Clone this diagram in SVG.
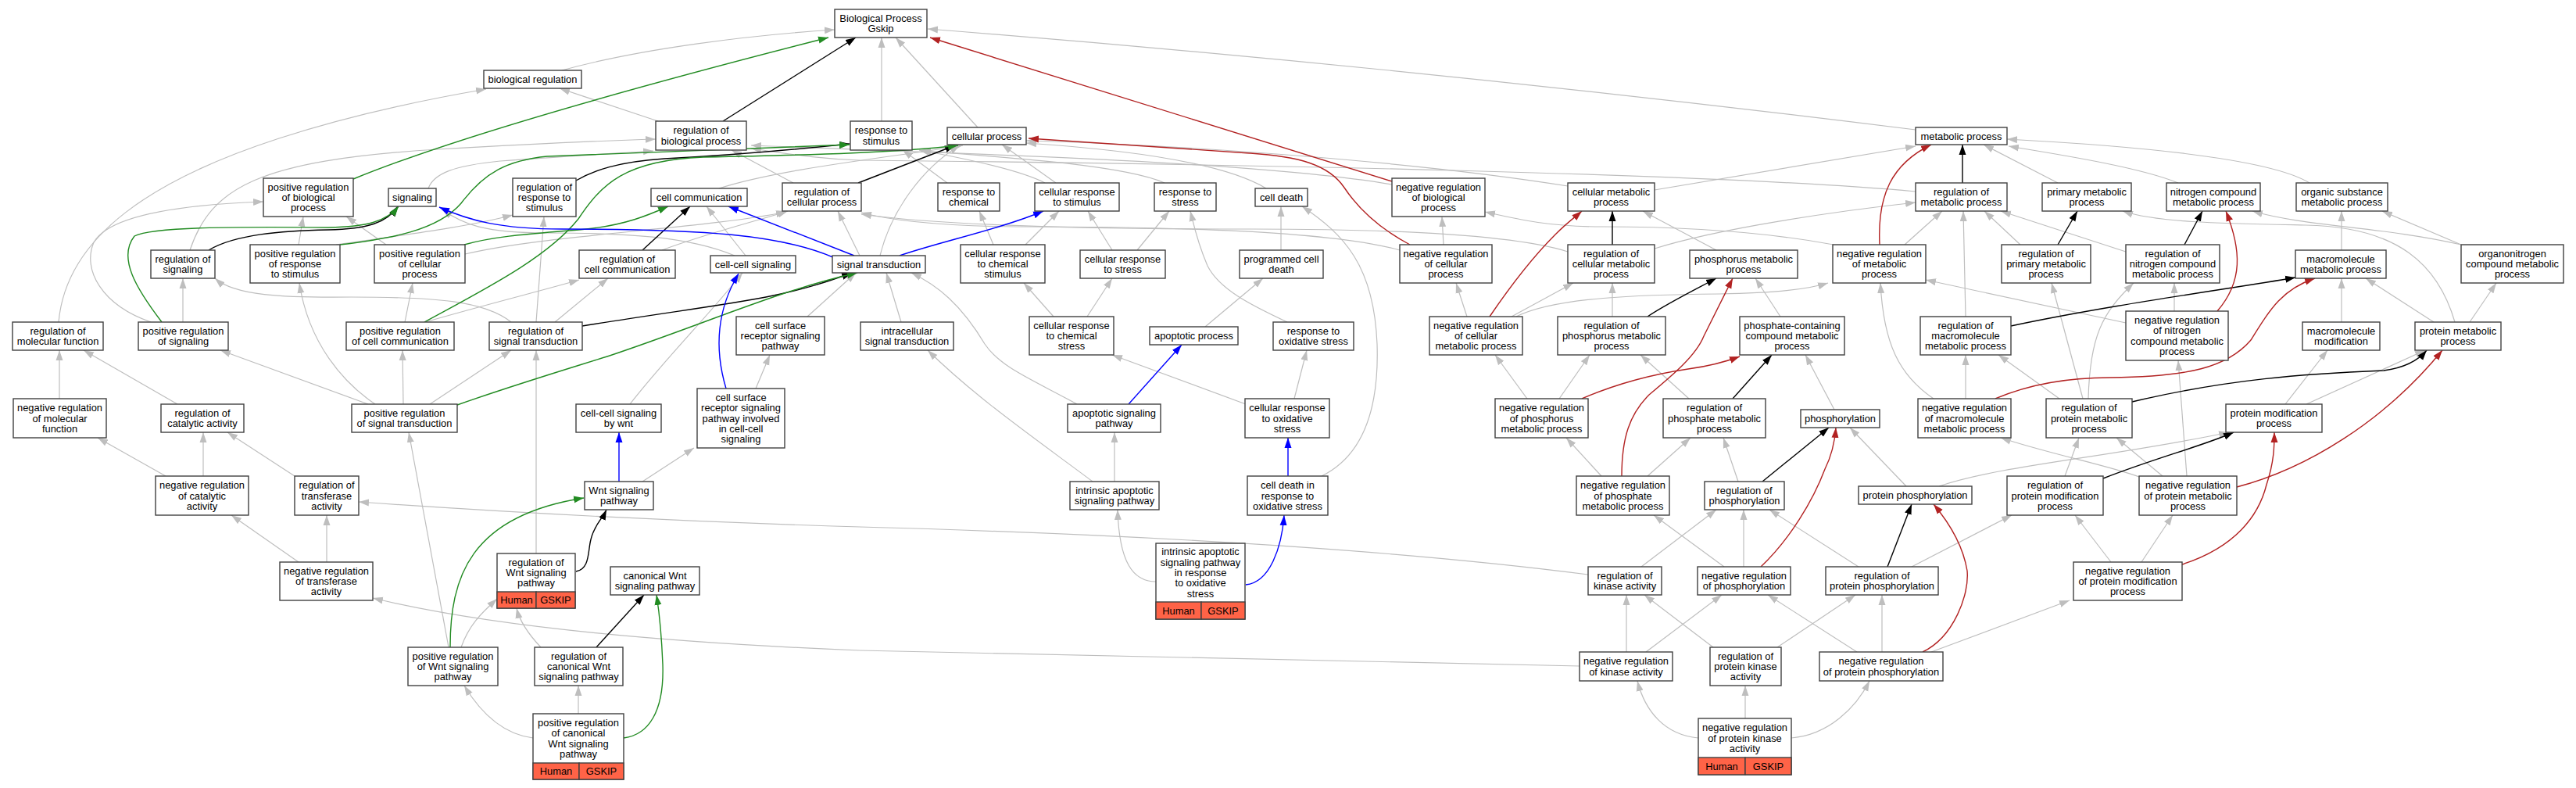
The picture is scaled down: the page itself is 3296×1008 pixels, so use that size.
<svg xmlns="http://www.w3.org/2000/svg" width="3296" height="1008" viewBox="0 0 3296 1008">
<style>
.node rect{fill:#fff;stroke:#404040;stroke-width:1.4}
.node rect.h{fill:#ff6347}
text{font-family:"Liberation Sans",Arial,sans-serif;font-size:12.9px;text-anchor:middle;fill:#000}
.e path{fill:none;stroke-width:1.2}
.e .g{stroke:#bebebe;marker-end:url(#ag)}
.e .k{stroke:#000;stroke-width:1.4;marker-end:url(#ak)}
.e .gr{stroke:#228b22;stroke-width:1.4;marker-end:url(#agr)}
.e .b{stroke:#0000ff;stroke-width:1.4;marker-end:url(#ab)}
.e .r{stroke:#b22222;stroke-width:1.4;marker-end:url(#ar)}
</style>
<defs>
<marker id="ag" markerUnits="userSpaceOnUse" markerWidth="13" markerHeight="10" viewBox="0 0 13 10" refX="13" refY="5" orient="auto"><path d="M0,0.5 L13,5 L0,9.5 z" fill="#bebebe"/></marker>
<marker id="ak" markerUnits="userSpaceOnUse" markerWidth="13" markerHeight="10" viewBox="0 0 13 10" refX="13" refY="5" orient="auto"><path d="M0,0.5 L13,5 L0,9.5 z" fill="#000"/></marker>
<marker id="agr" markerUnits="userSpaceOnUse" markerWidth="13" markerHeight="10" viewBox="0 0 13 10" refX="13" refY="5" orient="auto"><path d="M0,0.5 L13,5 L0,9.5 z" fill="#228b22"/></marker>
<marker id="ab" markerUnits="userSpaceOnUse" markerWidth="13" markerHeight="10" viewBox="0 0 13 10" refX="13" refY="5" orient="auto"><path d="M0,0.5 L13,5 L0,9.5 z" fill="#0000ff"/></marker>
<marker id="ar" markerUnits="userSpaceOnUse" markerWidth="13" markerHeight="10" viewBox="0 0 13 10" refX="13" refY="5" orient="auto"><path d="M0,0.5 L13,5 L0,9.5 z" fill="#b22222"/></marker>
</defs>
<rect width="3296" height="1008" fill="#fff"/>
<g id="edges" class="e">
<path class="g" d="M719,90 C820,62 960,45 1068,38"/>
<path class="g" d="M842,155 L716,113"/>
<path class="g" d="M75,412 C85,300 200,228 357,177 C440,150 540,128 622,114"/>
<path class="g" d="M1128,155 L1128,48"/>
<path class="g" d="M1251,163 L1146,48"/>
<path class="g" d="M2451,166 Q1800,85 1187,37"/>
<path class="g" d="M243,320 C270,240 330,205 560,191 C680,184 770,180 839,178"/>
<path class="g" d="M548,241 C555,222 580,212 640,206 C720,200 790,196 836,193"/>
<path class="g" d="M1015,234 L936,192"/>
<path class="g" d="M1781,236 C1600,205 1200,196 961,186"/>
<path class="g" d="M2451,245 C2200,222 1600,210 1100,205 C1040,203 1000,195 961,190"/>
<path class="g" d="M1212,234 L1155,192"/>
<path class="g" d="M1337,234 C1300,215 1220,200 1176,192"/>
<path class="g" d="M1490,234 C1440,212 1300,202 1178,193"/>
<path class="g" d="M1351,234 L1282,185"/>
<path class="g" d="M1126,327 C1140,270 1180,215 1228,186"/>
<path class="g" d="M2006,238 C1800,205 1500,185 1313,180"/>
<path class="g" d="M1620,241 C1560,205 1420,190 1313,183"/>
<path class="g" d="M920,241 C1000,215 1150,200 1232,186"/>
<path class="g" d="M1639,320 L1639,264"/>
<path class="g" d="M1271,313 L1253,270"/>
<path class="g" d="M1312,313 L1355,270"/>
<path class="g" d="M1423,320 L1392,270"/>
<path class="g" d="M1455,320 L1496,270"/>
<path class="g" d="M1348,405 L1310,362"/>
<path class="g" d="M1391,405 L1423,356"/>
<path class="g" d="M1647,412 C1600,390 1560,370 1545,340 C1532,310 1528,290 1523,270"/>
<path class="g" d="M1542,418 L1616,356"/>
<path class="g" d="M1594,517 L1423,454"/>
<path class="g" d="M1656,510 L1672,448"/>
<path class="g" d="M1691,609 C1740,585 1765,530 1762,440 C1758,340 1720,300 1666,264"/>
<path class="g" d="M1426,616 L1426,553"/>
<path class="g" d="M1479,744 C1450,744 1432,720 1430,652"/>
<path class="g" d="M1398,616 C1330,565 1250,510 1187,448"/>
<path class="g" d="M1378,517 C1320,485 1280,470 1260,440 C1230,390 1200,365 1166,349"/>
<path class="g" d="M1153,412 L1134,349"/>
<path class="g" d="M1033,405 L1095,349"/>
<path class="g" d="M1100,327 L1072,270"/>
<path class="g" d="M954,327 L904,264"/>
<path class="g" d="M847,320 C900,300 960,285 1008,270"/>
<path class="g" d="M595,325 C700,300 900,293 1006,271"/>
<path class="g" d="M806,517 C850,460 910,400 950,349"/>
<path class="g" d="M967,497 L985,454"/>
<path class="g" d="M822,616 L888,573"/>
<path class="g" d="M654,412 C620,385 560,380 450,380 C360,381 300,378 275,356"/>
<path class="g" d="M710,412 L778,356"/>
<path class="g" d="M686,412 L696,277"/>
<path class="g" d="M686,708 L686,448"/>
<path class="g" d="M471,517 L282,448"/>
<path class="g" d="M480,517 C440,490 395,440 383,362"/>
<path class="g" d="M516,517 L515,448"/>
<path class="g" d="M550,517 L654,448"/>
<path class="g" d="M574,828 L523,553"/>
<path class="g" d="M590,828 C600,800 615,785 636,766"/>
<path class="g" d="M692,828 C675,810 665,795 661,778"/>
<path class="g" d="M740,913 L740,877"/>
<path class="g" d="M682,944 C650,940 620,920 594,877"/>
<path class="g" d="M234,412 L234,356"/>
<path class="g" d="M193,412 C130,390 105,345 120,310 C140,275 230,262 337,258"/>
<path class="g" d="M518,412 L528,362"/>
<path class="g" d="M544,412 C620,390 700,370 741,358"/>
<path class="g" d="M382,313 L388,277"/>
<path class="g" d="M430,313 C520,300 600,290 656,275"/>
<path class="g" d="M494,313 L443,277"/>
<path class="g" d="M76,510 L76,448"/>
<path class="g" d="M227,517 L107,448"/>
<path class="g" d="M212,609 L125,560"/>
<path class="g" d="M260,609 L260,553"/>
<path class="g" d="M377,609 L291,553"/>
<path class="g" d="M382,719 L296,659"/>
<path class="g" d="M418,719 L418,659"/>
<path class="g" d="M2032,735 C1800,705 1500,685 1100,674 C800,665 600,652 459,642"/>
<path class="g" d="M2021,852 C1700,845 1400,838 1100,832 C800,820 600,795 477,765"/>
<path class="g" d="M1847,313 L1845,277"/>
<path class="g" d="M1791,320 C1700,295 1500,290 1300,290 C1200,289 1140,282 1102,272"/>
<path class="g" d="M2006,322 C1930,298 1760,293 1600,293 C1400,293 1200,288 1102,274"/>
<path class="g" d="M2346,313 C2250,295 2150,290 2050,290 C1980,290 1940,280 1900,271"/>
<path class="g" d="M1877,405 L1863,362"/>
<path class="g" d="M1934,405 L2013,362"/>
<path class="g" d="M1940,405 C1990,380 2100,377 2200,376 C2280,375 2320,368 2339,362"/>
<path class="g" d="M2063,405 L2063,362"/>
<path class="g" d="M2278,405 L2246,356"/>
<path class="g" d="M2196,320 L2102,270"/>
<path class="g" d="M2117,243 L2451,187"/>
<path class="g" d="M2633,234 L2538,185"/>
<path class="g" d="M2787,234 C2740,215 2650,200 2570,187"/>
<path class="g" d="M2955,234 C2900,200 2700,185 2568,178"/>
<path class="g" d="M2117,318 C2200,292 2350,270 2451,259"/>
<path class="g" d="M2437,313 L2485,270"/>
<path class="g" d="M2585,313 L2539,270"/>
<path class="g" d="M2720,322 L2560,270"/>
<path class="g" d="M2515,405 L2512,270"/>
<path class="g" d="M2996,320 L2996,270"/>
<path class="g" d="M3149,313 L3048,270"/>
<path class="g" d="M3149,313 C3050,290 2950,290 2882,270"/>
<path class="g" d="M3141,412 C3120,340 3070,290 2950,288 C2850,286 2760,285 2716,270"/>
<path class="g" d="M3114,412 L3027,356"/>
<path class="g" d="M3160,412 L3194,362"/>
<path class="g" d="M2996,412 L2996,356"/>
<path class="g" d="M2924,517 L2978,448"/>
<path class="g" d="M2951,517 L3103,448"/>
<path class="g" d="M2161,510 L2099,454"/>
<path class="g" d="M1995,510 L2034,454"/>
<path class="g" d="M1954,510 L1913,454"/>
<path class="g" d="M2347,524 L2310,454"/>
<path class="g" d="M2515,510 L2515,454"/>
<path class="g" d="M2474,510 C2430,480 2410,440 2406,362"/>
<path class="g" d="M2635,510 L2557,454"/>
<path class="g" d="M2665,510 L2625,362"/>
<path class="g" d="M2672,510 C2674,430 2690,400 2730,362"/>
<path class="g" d="M2782,398 L2782,362"/>
<path class="g" d="M2720,413 L2464,358"/>
<path class="g" d="M2049,609 L2004,560"/>
<path class="g" d="M2108,609 L2163,560"/>
<path class="g" d="M2224,616 L2205,560"/>
<path class="g" d="M2439,622 L2367,547"/>
<path class="g" d="M2481,622 C2560,595 2700,585 2852,553"/>
<path class="g" d="M2642,609 L2660,560"/>
<path class="g" d="M2767,609 L2708,560"/>
<path class="g" d="M2737,610 C2700,596 2620,580 2560,560"/>
<path class="g" d="M2798,609 L2787,461"/>
<path class="g" d="M2701,719 L2655,659"/>
<path class="g" d="M2740,719 L2780,659"/>
<path class="g" d="M2100,725 L2196,652"/>
<path class="g" d="M2231,725 L2231,652"/>
<path class="g" d="M2206,725 L2116,659"/>
<path class="g" d="M2378,725 L2264,652"/>
<path class="g" d="M2446,725 L2574,659"/>
<path class="g" d="M2376,834 L2262,761"/>
<path class="g" d="M2408,834 L2408,761"/>
<path class="g" d="M2471,834 L2648,768"/>
<path class="g" d="M2192,828 L2104,761"/>
<path class="g" d="M2274,828 L2374,761"/>
<path class="g" d="M2081,834 L2081,761"/>
<path class="g" d="M2106,834 L2203,761"/>
<path class="g" d="M2233,919 L2233,877"/>
<path class="g" d="M2173,944 C2130,940 2105,910 2095,871"/>
<path class="g" d="M2292,944 C2340,940 2375,905 2392,871"/>
<path class="g" d="M940,327 C880,302 800,298 700,298 C620,298 592,287 566,268"/>
<path class="k" d="M925,155 L1095,48"/>
<path class="k" d="M737,231 C760,218 790,207 850,203 C950,198 1030,190 1087,184"/>
<path class="k" d="M1098,234 L1222,186"/>
<path class="k" d="M267,320 C300,300 360,295 420,294 C470,293 495,285 509,264"/>
<path class="k" d="M822,320 L883,264"/>
<path class="k" d="M745,417 C850,400 930,390 980,380 C1030,370 1060,360 1090,349"/>
<path class="k" d="M2511,234 L2511,185"/>
<path class="k" d="M2063,313 L2063,270"/>
<path class="k" d="M2633,313 L2658,270"/>
<path class="k" d="M2795,313 L2818,270"/>
<path class="k" d="M2573,417 C2700,390 2850,370 2937,355"/>
<path class="k" d="M2108,405 C2130,390 2160,375 2196,356"/>
<path class="k" d="M2217,510 L2267,454"/>
<path class="k" d="M2255,616 L2340,547"/>
<path class="k" d="M2415,725 L2446,645"/>
<path class="k" d="M2691,612 C2760,585 2820,570 2858,553"/>
<path class="k" d="M2728,514 C2850,485 2950,478 3050,474 C3080,470 3095,460 3105,448"/>
<path class="k" d="M737,731 C755,728 752,705 756,690 C760,672 770,665 776,652"/>
<path class="k" d="M763,828 L824,761"/>
<path class="gr" d="M452,229 Q620,160 1060,48"/>
<path class="gr" d="M435,313 C500,305 560,295 590,260 C620,220 650,205 700,200 C850,195 1000,188 1087,185"/>
<path class="gr" d="M207,412 C175,370 150,330 172,302 C195,290 300,290 420,291 C470,290 495,283 510,264"/>
<path class="gr" d="M594,313 C640,300 700,298 750,293 C800,288 830,275 855,264"/>
<path class="gr" d="M543,412 C620,370 700,330 740,280 C770,235 800,205 900,201 C1050,198 1150,195 1226,186"/>
<path class="gr" d="M585,518 C650,495 700,480 780,455 C900,415 1000,370 1097,349"/>
<path class="gr" d="M576,828 C576,740 600,660 747,637"/>
<path class="gr" d="M798,944 C830,940 850,910 848,850 C846,800 843,780 840,761"/>
<path class="r" d="M1781,232 L1190,48"/>
<path class="r" d="M1804,313 C1770,295 1740,270 1720,240 C1700,210 1660,200 1600,196 C1500,190 1400,183 1316,177"/>
<path class="r" d="M2405,313 C2402,250 2420,210 2471,185"/>
<path class="r" d="M1906,405 C1940,355 1970,320 1990,300 C2005,285 2015,278 2024,270"/>
<path class="r" d="M2837,398 C2870,360 2868,320 2848,270"/>
<path class="r" d="M2553,510 C2600,490 2650,483 2700,483 C2800,482 2850,470 2880,435 C2905,395 2920,370 2962,356"/>
<path class="r" d="M2862,623 C2950,600 3050,540 3125,448"/>
<path class="r" d="M2792,722 C2860,700 2890,660 2900,620 C2910,590 2910,570 2910,553"/>
<path class="r" d="M2024,510 C2070,490 2120,478 2160,472 C2190,468 2210,462 2226,456"/>
<path class="r" d="M2075,609 C2075,560 2085,530 2110,505 C2140,480 2170,455 2180,430 C2195,400 2205,380 2217,356"/>
<path class="r" d="M2253,725 C2290,690 2320,640 2335,600 C2345,580 2348,560 2349,547"/>
<path class="r" d="M2460,834 C2500,815 2520,760 2517,730 C2512,700 2495,670 2474,645"/>
<path class="b" d="M1093,327 L932,264"/>
<path class="b" d="M1068,330 C1000,300 900,293 719,293 C640,293 600,282 562,265"/>
<path class="b" d="M1151,327 C1200,310 1280,293 1335,270"/>
<path class="b" d="M929,497 C915,450 915,400 945,350"/>
<path class="b" d="M792,616 L792,553"/>
<path class="b" d="M1444,517 L1512,441"/>
<path class="b" d="M1648,609 L1648,560"/>
<path class="b" d="M1594,748 C1625,745 1640,700 1643,659"/>
</g>
<g id="n0" class="node"><rect x="1068" y="12" width="118" height="36"/><text x="1127" y="27.9">Biological Process<tspan x="1127" dy="13.3">Gskip</tspan></text></g>
<g id="n1" class="node"><rect x="619" y="90" width="125" height="23"/><text x="681.5" y="106">biological regulation</text></g>
<g id="n2" class="node"><rect x="839" y="155" width="116" height="37"/><text x="897" y="171.4">regulation of<tspan x="897" dy="13.3">biological process</tspan></text></g>
<g id="n3" class="node"><rect x="1088" y="155" width="79" height="37"/><text x="1127.5" y="171.4">response to<tspan x="1127.5" dy="13.3">stimulus</tspan></text></g>
<g id="n4" class="node"><rect x="1212" y="163" width="101" height="22"/><text x="1262.5" y="178.5">cellular process</text></g>
<g id="n5" class="node"><rect x="2451" y="163" width="117" height="22"/><text x="2509.5" y="178.5">metabolic process</text></g>
<g id="n6" class="node"><rect x="337" y="228" width="115" height="49"/><text x="394.5" y="243.7">positive regulation<tspan x="394.5" dy="13.3">of biological</tspan><tspan x="394.5" dy="13.3">process</tspan></text></g>
<g id="n7" class="node"><rect x="497" y="241" width="61" height="23"/><text x="527.5" y="257">signaling</text></g>
<g id="n8" class="node"><rect x="656" y="228" width="81" height="49"/><text x="696.5" y="243.7">regulation of<tspan x="696.5" dy="13.3">response to</tspan><tspan x="696.5" dy="13.3">stimulus</tspan></text></g>
<g id="n9" class="node"><rect x="833" y="241" width="123" height="23"/><text x="894.5" y="257">cell communication</text></g>
<g id="n10" class="node"><rect x="1001" y="234" width="101" height="36"/><text x="1051.5" y="249.9">regulation of<tspan x="1051.5" dy="13.3">cellular process</tspan></text></g>
<g id="n11" class="node"><rect x="1200" y="234" width="79" height="36"/><text x="1239.5" y="249.9">response to<tspan x="1239.5" dy="13.3">chemical</tspan></text></g>
<g id="n12" class="node"><rect x="1324" y="234" width="108" height="36"/><text x="1378" y="249.9">cellular response<tspan x="1378" dy="13.3">to stimulus</tspan></text></g>
<g id="n13" class="node"><rect x="1477" y="234" width="79" height="36"/><text x="1516.5" y="249.9">response to<tspan x="1516.5" dy="13.3">stress</tspan></text></g>
<g id="n14" class="node"><rect x="1606" y="241" width="67" height="23"/><text x="1639.5" y="257">cell death</text></g>
<g id="n15" class="node"><rect x="1781" y="228" width="119" height="49"/><text x="1840.5" y="243.7">negative regulation<tspan x="1840.5" dy="13.3">of biological</tspan><tspan x="1840.5" dy="13.3">process</tspan></text></g>
<g id="n16" class="node"><rect x="2006" y="234" width="111" height="36"/><text x="2061.5" y="249.9">cellular metabolic<tspan x="2061.5" dy="13.3">process</tspan></text></g>
<g id="n17" class="node"><rect x="2451" y="234" width="117" height="36"/><text x="2509.5" y="249.9">regulation of<tspan x="2509.5" dy="13.3">metabolic process</tspan></text></g>
<g id="n18" class="node"><rect x="2613" y="234" width="114" height="36"/><text x="2670" y="249.9">primary metabolic<tspan x="2670" dy="13.3">process</tspan></text></g>
<g id="n19" class="node"><rect x="2772" y="234" width="120" height="36"/><text x="2832" y="249.9">nitrogen compound<tspan x="2832" dy="13.3">metabolic process</tspan></text></g>
<g id="n20" class="node"><rect x="2938" y="234" width="117" height="36"/><text x="2996.5" y="249.9">organic substance<tspan x="2996.5" dy="13.3">metabolic process</tspan></text></g>
<g id="n21" class="node"><rect x="193" y="320" width="82" height="36"/><text x="234" y="335.9">regulation of<tspan x="234" dy="13.3">signaling</tspan></text></g>
<g id="n22" class="node"><rect x="320" y="313" width="115" height="49"/><text x="377.5" y="328.7">positive regulation<tspan x="377.5" dy="13.3">of response</tspan><tspan x="377.5" dy="13.3">to stimulus</tspan></text></g>
<g id="n23" class="node"><rect x="479" y="313" width="116" height="49"/><text x="537" y="328.7">positive regulation<tspan x="537" dy="13.3">of cellular</tspan><tspan x="537" dy="13.3">process</tspan></text></g>
<g id="n24" class="node"><rect x="741" y="320" width="123" height="36"/><text x="802.5" y="335.9">regulation of<tspan x="802.5" dy="13.3">cell communication</tspan></text></g>
<g id="n25" class="node"><rect x="909" y="327" width="109" height="22"/><text x="963.5" y="342.5">cell-cell signaling</text></g>
<g id="n26" class="node"><rect x="1065" y="327" width="119" height="22"/><text x="1124.5" y="342.5">signal transduction</text></g>
<g id="n27" class="node"><rect x="1229" y="313" width="108" height="49"/><text x="1283" y="328.7">cellular response<tspan x="1283" dy="13.3">to chemical</tspan><tspan x="1283" dy="13.3">stimulus</tspan></text></g>
<g id="n28" class="node"><rect x="1382" y="320" width="109" height="36"/><text x="1436.5" y="335.9">cellular response<tspan x="1436.5" dy="13.3">to stress</tspan></text></g>
<g id="n29" class="node"><rect x="1586" y="320" width="107" height="36"/><text x="1639.5" y="335.9">programmed cell<tspan x="1639.5" dy="13.3">death</tspan></text></g>
<g id="n30" class="node"><rect x="1791" y="313" width="118" height="49"/><text x="1850" y="328.7">negative regulation<tspan x="1850" dy="13.3">of cellular</tspan><tspan x="1850" dy="13.3">process</tspan></text></g>
<g id="n31" class="node"><rect x="2006" y="313" width="111" height="49"/><text x="2061.5" y="328.7">regulation of<tspan x="2061.5" dy="13.3">cellular metabolic</tspan><tspan x="2061.5" dy="13.3">process</tspan></text></g>
<g id="n32" class="node"><rect x="2162" y="320" width="138" height="36"/><text x="2231" y="335.9">phosphorus metabolic<tspan x="2231" dy="13.3">process</tspan></text></g>
<g id="n33" class="node"><rect x="2345" y="313" width="119" height="49"/><text x="2404.5" y="328.7">negative regulation<tspan x="2404.5" dy="13.3">of metabolic</tspan><tspan x="2404.5" dy="13.3">process</tspan></text></g>
<g id="n34" class="node"><rect x="2561" y="313" width="114" height="49"/><text x="2618" y="328.7">regulation of<tspan x="2618" dy="13.3">primary metabolic</tspan><tspan x="2618" dy="13.3">process</tspan></text></g>
<g id="n35" class="node"><rect x="2720" y="313" width="120" height="49"/><text x="2780" y="328.7">regulation of<tspan x="2780" dy="13.3">nitrogen compound</tspan><tspan x="2780" dy="13.3">metabolic process</tspan></text></g>
<g id="n36" class="node"><rect x="2937" y="320" width="116" height="36"/><text x="2995" y="335.9">macromolecule<tspan x="2995" dy="13.3">metabolic process</tspan></text></g>
<g id="n37" class="node"><rect x="3149" y="313" width="131" height="49"/><text x="3214.5" y="328.7">organonitrogen<tspan x="3214.5" dy="13.3">compound metabolic</tspan><tspan x="3214.5" dy="13.3">process</tspan></text></g>
<g id="n38" class="node"><rect x="16" y="412" width="116" height="36"/><text x="74" y="427.9">regulation of<tspan x="74" dy="13.3">molecular function</tspan></text></g>
<g id="n39" class="node"><rect x="177" y="412" width="115" height="36"/><text x="234.5" y="427.9">positive regulation<tspan x="234.5" dy="13.3">of signaling</tspan></text></g>
<g id="n40" class="node"><rect x="443" y="412" width="138" height="36"/><text x="512" y="427.9">positive regulation<tspan x="512" dy="13.3">of cell communication</tspan></text></g>
<g id="n41" class="node"><rect x="626" y="412" width="119" height="36"/><text x="685.5" y="427.9">regulation of<tspan x="685.5" dy="13.3">signal transduction</tspan></text></g>
<g id="n42" class="node"><rect x="942" y="405" width="113" height="49"/><text x="998.5" y="420.7">cell surface<tspan x="998.5" dy="13.3">receptor signaling</tspan><tspan x="998.5" dy="13.3">pathway</tspan></text></g>
<g id="n43" class="node"><rect x="1101" y="412" width="119" height="36"/><text x="1160.5" y="427.9">intracellular<tspan x="1160.5" dy="13.3">signal transduction</tspan></text></g>
<g id="n44" class="node"><rect x="1317" y="405" width="108" height="49"/><text x="1371" y="420.7">cellular response<tspan x="1371" dy="13.3">to chemical</tspan><tspan x="1371" dy="13.3">stress</tspan></text></g>
<g id="n45" class="node"><rect x="1471" y="418" width="113" height="23"/><text x="1527.5" y="434">apoptotic process</text></g>
<g id="n46" class="node"><rect x="1629" y="412" width="103" height="36"/><text x="1680.5" y="427.9">response to<tspan x="1680.5" dy="13.3">oxidative stress</tspan></text></g>
<g id="n47" class="node"><rect x="1829" y="405" width="119" height="49"/><text x="1888.5" y="420.7">negative regulation<tspan x="1888.5" dy="13.3">of cellular</tspan><tspan x="1888.5" dy="13.3">metabolic process</tspan></text></g>
<g id="n48" class="node"><rect x="1993" y="405" width="138" height="49"/><text x="2062" y="420.7">regulation of<tspan x="2062" dy="13.3">phosphorus metabolic</tspan><tspan x="2062" dy="13.3">process</tspan></text></g>
<g id="n49" class="node"><rect x="2226" y="405" width="134" height="49"/><text x="2293" y="420.7">phosphate-containing<tspan x="2293" dy="13.3">compound metabolic</tspan><tspan x="2293" dy="13.3">process</tspan></text></g>
<g id="n50" class="node"><rect x="2457" y="405" width="116" height="49"/><text x="2515" y="420.7">regulation of<tspan x="2515" dy="13.3">macromolecule</tspan><tspan x="2515" dy="13.3">metabolic process</tspan></text></g>
<g id="n51" class="node"><rect x="2720" y="398" width="131" height="63"/><text x="2785.5" y="414.1">negative regulation<tspan x="2785.5" dy="13.3">of nitrogen</tspan><tspan x="2785.5" dy="13.3">compound metabolic</tspan><tspan x="2785.5" dy="13.3">process</tspan></text></g>
<g id="n52" class="node"><rect x="2946" y="412" width="99" height="36"/><text x="2995.5" y="427.9">macromolecule<tspan x="2995.5" dy="13.3">modification</tspan></text></g>
<g id="n53" class="node"><rect x="3090" y="412" width="110" height="36"/><text x="3145" y="427.9">protein metabolic<tspan x="3145" dy="13.3">process</tspan></text></g>
<g id="n54" class="node"><rect x="17" y="510" width="119" height="50"/><text x="76.5" y="526.2">negative regulation<tspan x="76.5" dy="13.3">of molecular</tspan><tspan x="76.5" dy="13.3">function</tspan></text></g>
<g id="n55" class="node"><rect x="206" y="517" width="106" height="36"/><text x="259" y="532.9">regulation of<tspan x="259" dy="13.3">catalytic activity</tspan></text></g>
<g id="n56" class="node"><rect x="450" y="517" width="135" height="36"/><text x="517.5" y="532.9">positive regulation<tspan x="517.5" dy="13.3">of signal transduction</tspan></text></g>
<g id="n57" class="node"><rect x="737" y="517" width="109" height="36"/><text x="791.5" y="532.9">cell-cell signaling<tspan x="791.5" dy="13.3">by wnt</tspan></text></g>
<g id="n58" class="node"><rect x="892" y="497" width="112" height="76"/><text x="948" y="512.9">cell surface<tspan x="948" dy="13.3">receptor signaling</tspan><tspan x="948" dy="13.3">pathway involved</tspan><tspan x="948" dy="13.3">in cell-cell</tspan><tspan x="948" dy="13.3">signaling</tspan></text></g>
<g id="n59" class="node"><rect x="1366" y="517" width="119" height="36"/><text x="1425.5" y="532.9">apoptotic signaling<tspan x="1425.5" dy="13.3">pathway</tspan></text></g>
<g id="n60" class="node"><rect x="1593" y="510" width="108" height="50"/><text x="1647" y="526.2">cellular response<tspan x="1647" dy="13.3">to oxidative</tspan><tspan x="1647" dy="13.3">stress</tspan></text></g>
<g id="n61" class="node"><rect x="1913" y="510" width="119" height="50"/><text x="1972.5" y="526.2">negative regulation<tspan x="1972.5" dy="13.3">of phosphorus</tspan><tspan x="1972.5" dy="13.3">metabolic process</tspan></text></g>
<g id="n62" class="node"><rect x="2128" y="510" width="131" height="50"/><text x="2193.5" y="526.2">regulation of<tspan x="2193.5" dy="13.3">phosphate metabolic</tspan><tspan x="2193.5" dy="13.3">process</tspan></text></g>
<g id="n63" class="node"><rect x="2304" y="524" width="101" height="23"/><text x="2354.5" y="540">phosphorylation</text></g>
<g id="n64" class="node"><rect x="2454" y="510" width="119" height="50"/><text x="2513.5" y="526.2">negative regulation<tspan x="2513.5" dy="13.3">of macromolecule</tspan><tspan x="2513.5" dy="13.3">metabolic process</tspan></text></g>
<g id="n65" class="node"><rect x="2618" y="510" width="110" height="50"/><text x="2673" y="526.2">regulation of<tspan x="2673" dy="13.3">protein metabolic</tspan><tspan x="2673" dy="13.3">process</tspan></text></g>
<g id="n66" class="node"><rect x="2848" y="517" width="123" height="36"/><text x="2909.5" y="532.9">protein modification<tspan x="2909.5" dy="13.3">process</tspan></text></g>
<g id="n67" class="node"><rect x="199" y="609" width="119" height="50"/><text x="258.5" y="625.2">negative regulation<tspan x="258.5" dy="13.3">of catalytic</tspan><tspan x="258.5" dy="13.3">activity</tspan></text></g>
<g id="n68" class="node"><rect x="377" y="609" width="82" height="50"/><text x="418" y="625.2">regulation of<tspan x="418" dy="13.3">transferase</tspan><tspan x="418" dy="13.3">activity</tspan></text></g>
<g id="n69" class="node"><rect x="748" y="616" width="88" height="36"/><text x="792" y="631.9">Wnt signaling<tspan x="792" dy="13.3">pathway</tspan></text></g>
<g id="n70" class="node"><rect x="1369" y="616" width="114" height="36"/><text x="1426" y="631.9">intrinsic apoptotic<tspan x="1426" dy="13.3">signaling pathway</tspan></text></g>
<g id="n71" class="node"><rect x="1596" y="609" width="103" height="50"/><text x="1647.5" y="625.2">cell death in<tspan x="1647.5" dy="13.3">response to</tspan><tspan x="1647.5" dy="13.3">oxidative stress</tspan></text></g>
<g id="n72" class="node"><rect x="2017" y="609" width="119" height="50"/><text x="2076.5" y="625.2">negative regulation<tspan x="2076.5" dy="13.3">of phosphate</tspan><tspan x="2076.5" dy="13.3">metabolic process</tspan></text></g>
<g id="n73" class="node"><rect x="2181" y="616" width="102" height="36"/><text x="2232" y="631.9">regulation of<tspan x="2232" dy="13.3">phosphorylation</tspan></text></g>
<g id="n74" class="node"><rect x="2378" y="622" width="145" height="23"/><text x="2450.5" y="638">protein phosphorylation</text></g>
<g id="n75" class="node"><rect x="2568" y="609" width="123" height="50"/><text x="2629.5" y="625.2">regulation of<tspan x="2629.5" dy="13.3">protein modification</tspan><tspan x="2629.5" dy="13.3">process</tspan></text></g>
<g id="n76" class="node"><rect x="2737" y="609" width="125" height="50"/><text x="2799.5" y="625.2">negative regulation<tspan x="2799.5" dy="13.3">of protein metabolic</tspan><tspan x="2799.5" dy="13.3">process</tspan></text></g>
<g id="n77" class="node"><rect x="636" y="708" width="100" height="70"/><rect class="h" x="636" y="757" width="50" height="21"/><rect class="h" x="686" y="757" width="50" height="21"/><text x="686" y="723.7">regulation of<tspan x="686" dy="13.3">Wnt signaling</tspan><tspan x="686" dy="13.3">pathway</tspan></text><text x="661" y="772">Human</text><text x="711" y="772">GSKIP</text></g>
<g id="n78" class="node"><rect x="781" y="725" width="114" height="36"/><text x="838" y="740.9">canonical Wnt<tspan x="838" dy="13.3">signaling pathway</tspan></text></g>
<g id="n79" class="node"><rect x="358" y="719" width="119" height="49"/><text x="417.5" y="734.7">negative regulation<tspan x="417.5" dy="13.3">of transferase</tspan><tspan x="417.5" dy="13.3">activity</tspan></text></g>
<g id="n80" class="node"><rect x="1479" y="695" width="114" height="97"/><rect class="h" x="1479" y="770" width="58" height="22"/><rect class="h" x="1537" y="770" width="56" height="22"/><text x="1536" y="710.4">intrinsic apoptotic<tspan x="1536" dy="13.3">signaling pathway</tspan><tspan x="1536" dy="13.3">in response</tspan><tspan x="1536" dy="13.3">to oxidative</tspan><tspan x="1536" dy="13.3">stress</tspan></text><text x="1508" y="785.5">Human</text><text x="1565" y="785.5">GSKIP</text></g>
<g id="n81" class="node"><rect x="2032" y="725" width="94" height="36"/><text x="2079" y="740.9">regulation of<tspan x="2079" dy="13.3">kinase activity</tspan></text></g>
<g id="n82" class="node"><rect x="2172" y="725" width="119" height="36"/><text x="2231.5" y="740.9">negative regulation<tspan x="2231.5" dy="13.3">of phosphorylation</tspan></text></g>
<g id="n83" class="node"><rect x="2336" y="725" width="144" height="36"/><text x="2408" y="740.9">regulation of<tspan x="2408" dy="13.3">protein phosphorylation</tspan></text></g>
<g id="n84" class="node"><rect x="2653" y="719" width="139" height="49"/><text x="2722.5" y="734.7">negative regulation<tspan x="2722.5" dy="13.3">of protein modification</tspan><tspan x="2722.5" dy="13.3">process</tspan></text></g>
<g id="n85" class="node"><rect x="522" y="828" width="115" height="49"/><text x="579.5" y="843.7">positive regulation<tspan x="579.5" dy="13.3">of Wnt signaling</tspan><tspan x="579.5" dy="13.3">pathway</tspan></text></g>
<g id="n86" class="node"><rect x="684" y="828" width="113" height="49"/><text x="740.5" y="843.7">regulation of<tspan x="740.5" dy="13.3">canonical Wnt</tspan><tspan x="740.5" dy="13.3">signaling pathway</tspan></text></g>
<g id="n87" class="node"><rect x="2021" y="834" width="119" height="37"/><text x="2080.5" y="850.4">negative regulation<tspan x="2080.5" dy="13.3">of kinase activity</tspan></text></g>
<g id="n88" class="node"><rect x="2188" y="828" width="91" height="49"/><text x="2233.5" y="843.7">regulation of<tspan x="2233.5" dy="13.3">protein kinase</tspan><tspan x="2233.5" dy="13.3">activity</tspan></text></g>
<g id="n89" class="node"><rect x="2328" y="834" width="158" height="37"/><text x="2407" y="850.4">negative regulation<tspan x="2407" dy="13.3">of protein phosphorylation</tspan></text></g>
<g id="n90" class="node"><rect x="682" y="913" width="116" height="84"/><rect class="h" x="682" y="976" width="59" height="21"/><rect class="h" x="741" y="976" width="57" height="21"/><text x="740" y="929.1">positive regulation<tspan x="740" dy="13.3">of canonical</tspan><tspan x="740" dy="13.3">Wnt signaling</tspan><tspan x="740" dy="13.3">pathway</tspan></text><text x="711.5" y="991">Human</text><text x="769.5" y="991">GSKIP</text></g>
<g id="n91" class="node"><rect x="2173" y="919" width="119" height="72"/><rect class="h" x="2173" y="969" width="60" height="22"/><rect class="h" x="2233" y="969" width="59" height="22"/><text x="2232.5" y="935.2">negative regulation<tspan x="2232.5" dy="13.3">of protein kinase</tspan><tspan x="2232.5" dy="13.3">activity</tspan></text><text x="2203" y="984.5">Human</text><text x="2262.5" y="984.5">GSKIP</text></g>
</svg>
